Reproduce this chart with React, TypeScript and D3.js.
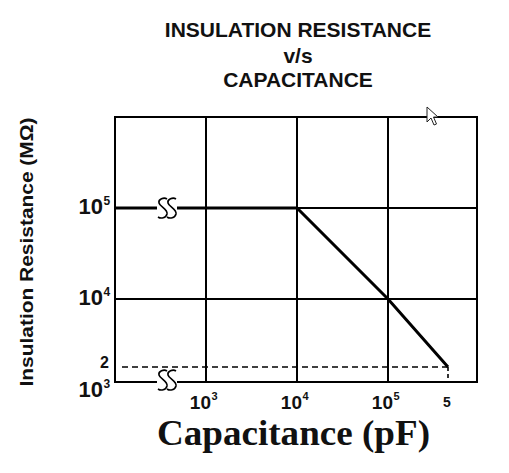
import React from "react";
import * as d3 from "d3";

const titleLines = ["INSULATION RESISTANCE", "v/s", "CAPACITANCE"];
const yTitle = "Insulation Resistance (MΩ)";
const xTitle = "Capacitance (pF)";

// curve data (pF, MΩ)
const capacitance = [1e2, 1e4, 1e5, 5e5];
const resistance = [1e5, 1e5, 1e4, 2e3];

// grid & ticks
const xGrid = [1e3, 1e4, 1e5];
const yGrid = [1e4, 1e5];
const xTickValues = [1e3, 1e4, 1e5];
const xTickExp = ["3", "4", "5"];
const yTickValues = [1e5, 1e4, 1e3];
const yTickExp = ["5", "4", "3"];
const minResistance = 2e3;
const maxCapacitance = 5e5;
const minLabelY = "2";
const maxLabelX = "5";

const W = 509;
const H = 473;
const L = 115, R = 477, T = 117, B = 382;

// broken (piecewise) log axes
const x = d3.scaleLog().domain([1e2, 1e5, 5e5, 1e6]).range([L, 388, 448, R]);
const y = d3.scaleLog().domain([1e3, 2e3, 1e4, 1e6]).range([B, 367, 299, T]);

function breakMark(cx: number, cy: number, key: string) {
  const s = (ox: number) =>
    `M${ox + 4},${cy - 9} C${ox + 1},${cy - 11} ${ox - 5},${cy - 9} ${ox - 4},${cy - 5} ` +
    `C${ox - 3},${cy - 1} ${ox + 5},${cy + 1} ${ox + 4},${cy + 6} ` +
    `C${ox + 3},${cy + 10} ${ox - 2},${cy + 11} ${ox - 5},${cy + 9}`;
  return (
    <g key={key}>
      <rect x={cx - 10} y={cy - 4} width={20} height={8} fill="#fff" />
      <path d={s(cx - 4)} fill="none" stroke="#000" strokeWidth={1.6} />
      <path d={s(cx + 5)} fill="none" stroke="#000" strokeWidth={1.6} />
    </g>
  );
}

export default function App() {
  const pts = capacitance.map((c, i) => [c, resistance[i]] as [number, number]);
  const line = d3
    .line<[number, number]>()
    .x((d) => x(d[0]))
    .y((d) => y(d[1]));
  const sans = "'Liberation Sans', Arial, sans-serif";
  const serif = "'Liberation Serif', 'Times New Roman', serif";
  const xe = x(maxCapacitance);
  const ym = y(minResistance);
  return (
    <svg
      width={W}
      height={H}
      viewBox={`0 0 ${W} ${H}`}
      style={{ position: "absolute", left: 0, top: 0, background: "#fff" }}
    >
      <rect x={0} y={0} width={W} height={H} fill="#fff" />
      {/* title */}
      {titleLines.map((t, i) => (
        <text
          key={t}
          x={298}
          y={[37, 63, 87][i]}
          textAnchor="middle"
          fontFamily={sans}
          fontWeight="bold"
          fontSize={21}
          fill="#111"
        >
          {t}
        </text>
      ))}
      {/* grid */}
      {xGrid.map((v) => (
        <line key={"gx" + v} x1={x(v)} x2={x(v)} y1={T} y2={B} stroke="#000" strokeWidth={2} />
      ))}
      {yGrid.map((v) => (
        <line key={"gy" + v} x1={L} x2={R} y1={y(v)} y2={y(v)} stroke="#000" strokeWidth={2} />
      ))}
      <rect x={L} y={T} width={R - L} height={B - T} fill="none" stroke="#000" strokeWidth={2} />
      {/* dashed limit lines */}
      <line x1={L + 7} x2={xe} y1={ym} y2={ym} stroke="#000" strokeWidth={1.6} strokeDasharray="6,4" />
      <line x1={xe} x2={xe} y1={ym} y2={B} stroke="#000" strokeWidth={1.6} strokeDasharray="4,3" />
      {/* curve */}
      <path d={line(pts) || ""} fill="none" stroke="#000" strokeWidth={3} strokeLinejoin="miter" />
      {breakMark(167, y(1e5), "b1")}
      {breakMark(167, 380, "b2")}
      {/* y tick labels */}
      {yTickValues.map((v, i) => {
        const by = v === 1e3 ? B + 15 : y(v) + 6;
        return (
          <g key={"yt" + v}>
            <text x={103} y={by} textAnchor="end" fontFamily={sans} fontWeight="bold" fontSize={22} fill="#111">
              10
            </text>
            <text x={103.5} y={by - 9} textAnchor="start" fontFamily={sans} fontWeight="bold" fontSize={12} fill="#111">
              {yTickExp[i]}
            </text>
          </g>
        );
      })}
      <text x={109} y={ym + 1} textAnchor="end" fontFamily={sans} fontWeight="bold" fontSize={16} fill="#111">
        {minLabelY}
      </text>
      {/* x tick labels */}
      {xTickValues.map((v, i) => (
        <g key={"xt" + v}>
          <text x={x(v) + 5} y={409} textAnchor="end" fontFamily={sans} fontWeight="bold" fontSize={19} fill="#111">
            10
          </text>
          <text x={x(v) + 5.5} y={400} textAnchor="start" fontFamily={sans} fontWeight="bold" fontSize={11} fill="#111">
            {xTickExp[i]}
          </text>
        </g>
      ))}
      <text x={xe - 1} y={407} textAnchor="middle" fontFamily={sans} fontWeight="bold" fontSize={14} fill="#111">
        {maxLabelX}
      </text>
      {/* axis titles */}
      <text
        x={293.5}
        y={445}
        textAnchor="middle"
        fontFamily={serif}
        fontWeight="bold"
        fontSize={35}
        textLength={273}
        lengthAdjust="spacingAndGlyphs"
        fill="#111"
      >
        {xTitle}
      </text>
      <text
        transform={`translate(33,252) rotate(-90)`}
        textAnchor="middle"
        fontFamily={sans}
        fontWeight="bold"
        fontSize={19}
        textLength={269}
        lengthAdjust="spacingAndGlyphs"
        fill="#111"
      >
        {yTitle}
      </text>
      {/* mouse cursor from the screenshot */}
      <path
        d="M427,107 L427,122 L431,118 L434,125 L436.5,124 L433.5,117 L438,117 Z"
        fill="#fff"
        stroke="#222"
        strokeWidth={1}
      />
    </svg>
  );
}
